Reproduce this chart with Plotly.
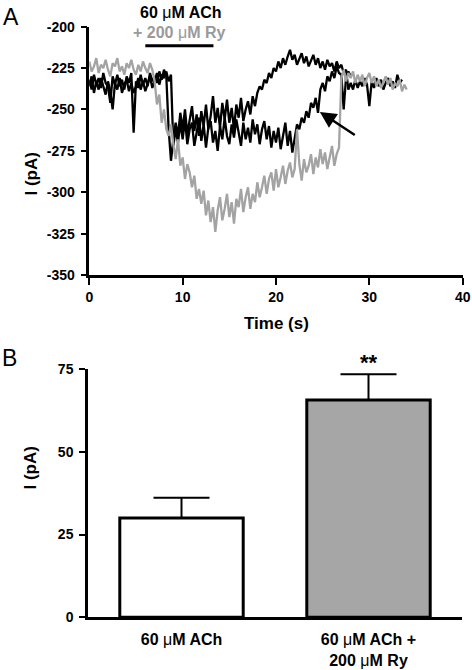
import plotly.graph_objects as go

# ---------------- data ----------------
dt_s = 0.25

gray_trace_pA = [
    -221, -227, -224, -219,
    -228, -223, -225, -220,
    -226, -230, -222, -224,
    -219, -227, -224, -229,
    -222, -225, -220, -226,
    -229, -223, -227, -221,
    -225, -228, -222, -226,
    -233, -247, -241, -258,
    -250, -262, -266, -259,
    -271, -280, -268, -284,
    -279, -292, -283, -288,
    -297, -290, -304, -298,
    -307, -299, -314, -305,
    -318, -309, -324, -311,
    -303, -317, -310, -301,
    -315, -306, -319, -304,
    -309, -298, -312, -303,
    -297, -310, -301, -306,
    -294, -303, -297, -290,
    -301, -292, -288, -299,
    -286, -297, -291, -284,
    -295, -287, -282, -291,
    -286, -262, -283, -293,
    -280, -288, -284, -277,
    -289, -279, -285, -274,
    -283, -276, -286, -279,
    -272, -284, -277, -273,
    -231, -226, -233, -228,
    -231, -227, -234, -229,
    -233, -229, -236, -231,
    -228, -234, -230, -236,
    -232, -237, -233, -230,
    -235, -231, -238, -234,
    -236, -232, -239, -235,
    -238,
]

black_trace1_pA = [
    -232, -238, -229, -235,
    -231, -237, -228, -234,
    -236, -246, -230, -235,
    -229, -236, -232, -238,
    -230, -234, -228, -264,
    -233, -237, -229, -235,
    -231, -236, -228, -233,
    -230, -234, -227, -232,
    -226, -230, -262, -281,
    -268, -258, -266, -252,
    -262, -250, -265, -255,
    -248, -263, -253, -266,
    -251, -260, -247, -262,
    -254, -242, -258, -249,
    -261, -246, -256, -244,
    -258, -249, -262, -247,
    -255, -243, -257, -250,
    -245, -253, -242, -248,
    -240, -236, -238, -232,
    -234, -228, -231, -225,
    -227, -221, -225, -219,
    -223, -218, -214, -220,
    -217, -223, -219, -216,
    -222, -218, -224, -220,
    -217, -223, -219, -225,
    -221, -226, -220, -224,
    -222, -227, -221, -225,
    -223, -228, -226, -238,
    -234, -238, -232, -237,
    -233, -236, -231, -235,
    -248, -233, -237, -231,
    -236, -232, -238, -234,
    -231, -236, -233, -237,
    -229, -234, -232,
]

black_trace2_pA = [
    -236, -230, -240, -233,
    -238, -231, -236, -241,
    -233, -239, -250, -234,
    -238, -231, -240, -235,
    -232, -239, -234, -240,
    -236, -231, -238, -233,
    -239, -234, -230, -237,
    -233, -228, -235, -229,
    -231, -227, -233, -229,
    -272, -262, -270, -258,
    -268, -256, -271, -262,
    -258, -272, -264, -255,
    -269, -259, -273, -261,
    -257, -270, -263, -275,
    -260, -268, -255, -266,
    -271, -259, -267, -256,
    -264, -272, -258, -268,
    -261, -270, -256, -265,
    -259, -271, -262, -257,
    -268, -260, -273, -263,
    -270, -261, -274, -265,
    -258, -272, -263, -276,
    -266, -259, -262, -255,
    -258, -251, -255, -246,
    -249, -243, -252, -238,
    -234, -239, -230, -233,
    -227, -231, -224, -228,
    -229, -250, -231, -227,
    -230,
]

application_s = [6.0, 13.3]          # drug application bar
arrow_tip = (24.7, -251.5)
arrow_tail = (28.6, -266.0)

x_ticks_A = [0, 10, 20, 30, 40]
y_ticks_A = [-200, -225, -250, -275, -300, -325, -350]

bar_categories = ["60 μM ACh", "60 μM ACh +<br>200 μM Ry"]
bar_means_pA = [30.0, 65.6]
bar_sem_pA = [6.1, 7.8]
y_ticks_B = [0, 25, 50, 75]

# ---------------- figure ----------------
FONT = "Liberation Sans, Arial, sans-serif"
GRAY = "#a3a3a3"


def times(values):
    return [i * dt_s for i in range(len(values))]


def bold_ticks(vals):
    return ["<b>%s</b>" % str(v) for v in vals]


fig = go.Figure()

fig.add_trace(go.Scatter(x=times(black_trace2_pA), y=black_trace2_pA, mode="lines",
                         line=dict(color="black", width=2.3), xaxis="x", yaxis="y",
                         showlegend=False, hoverinfo="skip"))
fig.add_trace(go.Scatter(x=times(black_trace1_pA), y=black_trace1_pA, mode="lines",
                         line=dict(color="black", width=2.3), xaxis="x", yaxis="y",
                         showlegend=False, hoverinfo="skip"))
fig.add_trace(go.Scatter(x=times(gray_trace_pA), y=gray_trace_pA, mode="lines",
                         line=dict(color=GRAY, width=2.3), xaxis="x", yaxis="y",
                         showlegend=False, hoverinfo="skip"))

bar_labels_html = [
    "<b>60 </b>μ<b>M ACh</b>",
    "<b>60 </b>μ<b>M ACh +</b><br><b>200 </b>μ<b>M Ry</b>",
]

fig.add_trace(go.Bar(
    x=[0, 1], y=bar_means_pA, width=0.66,
    marker=dict(color=["white", "#a6a6a6"], line=dict(color="black", width=3)),
    error_y=dict(type="data", symmetric=False, array=bar_sem_pA, arrayminus=[0, 0],
                 color="black", thickness=2, width=28),
    xaxis="x2", yaxis="y2", showlegend=False, hoverinfo="skip"))

axis_common = dict(showline=True, linecolor="black", linewidth=2.5, showgrid=False,
                   zeroline=False, ticks="outside", tickcolor="black", tickwidth=2,
                   automargin=False,
                   tickfont=dict(family=FONT, size=14, color="black"))

fig.update_layout(
    template="none",
    width=472, height=670,
    margin=dict(l=0, r=0, t=0, b=0, pad=0),
    paper_bgcolor="white", plot_bgcolor="white",
    xaxis=dict(domain=[89.3 / 472, 462.7 / 472], range=[0, 40], tickvals=x_ticks_A,
               ticktext=bold_ticks(x_ticks_A), ticklen=7, anchor="y", **axis_common),
    yaxis=dict(domain=[1 - 275 / 670, 1 - 26.7 / 670], range=[-350, -200],
               tickvals=y_ticks_A, ticktext=bold_ticks(y_ticks_A),
               ticklen=6, ticklabelstandoff=3, anchor="x", **axis_common),
    xaxis2=dict(domain=[88 / 472, 462 / 472], range=[-0.5, 1.5], tickvals=[0, 1],
                ticktext=bar_labels_html, anchor="y2", automargin=False,
                showline=True, linecolor="black", linewidth=2.5, showgrid=False,
                zeroline=False, ticks="", ticklabelstandoff=6,
                tickfont=dict(family=FONT, size=16, color="black")),
    yaxis2=dict(domain=[1 - 617.3 / 670, 1 - 369 / 670], range=[0, 75],
                tickvals=y_ticks_B, ticktext=bold_ticks(y_ticks_B),
                ticklen=6, ticklabelstandoff=3, anchor="x2", **axis_common),
)

# drug application bar
fig.add_shape(type="line", xref="x", yref="paper",
              x0=application_s[0], x1=application_s[1],
              y0=1 - 45.7 / 670, y1=1 - 45.7 / 670,
              line=dict(color="black", width=3))

ann = []
ann.append(dict(text="<b>60 </b>μ<b>M ACh</b>", x=181 / 472, y=1 - 12.5 / 670,
                xref="paper", yref="paper", yanchor="middle", showarrow=False,
                font=dict(family=FONT, size=16, color="black")))
ann.append(dict(text="<b>+ 200 </b>μ<b>M Ry</b>", x=179 / 472, y=1 - 32.5 / 670,
                xref="paper", yref="paper", yanchor="middle", showarrow=False,
                font=dict(family=FONT, size=16, color="#9a9a9a")))
ann.append(dict(text="<b>Time (s)</b>", x=276 / 472, y=1 - 323 / 670,
                xref="paper", yref="paper", yanchor="middle", showarrow=False,
                font=dict(family=FONT, size=17, color="black")))
ann.append(dict(text="<b>I (pA)</b>", x=19.5 / 472, y=1 - 151 / 670, textangle=-90,
                xref="paper", yref="paper", showarrow=False,
                font=dict(family=FONT, size=17, color="black")))
ann.append(dict(text="<b>I (pA)</b>", x=18.5 / 472, y=1 - 492 / 670, textangle=-90,
                xref="paper", yref="paper", showarrow=False,
                font=dict(family=FONT, size=17, color="black")))
ann.append(dict(text="A", x=1 / 472, y=1 - 2 / 670, xanchor="left", yanchor="top",
                xref="paper", yref="paper", showarrow=False,
                font=dict(family=FONT, size=23, color="black")))
ann.append(dict(text="B", x=0 / 472, y=1 - 343 / 670, xanchor="left", yanchor="top",
                xref="paper", yref="paper", showarrow=False,
                font=dict(family=FONT, size=23, color="black")))
ann.append(dict(text="<b>**</b>", x=1, y=1 - 362 / 670,
                xref="x2", yref="paper", yanchor="middle", showarrow=False,
                font=dict(family=FONT, size=22, color="black")))
ann.append(dict(text="", x=arrow_tip[0], y=arrow_tip[1], xref="x", yref="y",
                ax=arrow_tail[0], ay=arrow_tail[1], axref="x", ayref="y",
                showarrow=True, arrowhead=2, arrowsize=1.3, arrowwidth=2.5,
                arrowcolor="black"))
fig.update_layout(annotations=ann)

fig.write_html(
    "out.html",
    config={"displayModeBar": False},
    post_script="document.body.style.margin='0px';document.body.style.overflow='hidden';",
)
